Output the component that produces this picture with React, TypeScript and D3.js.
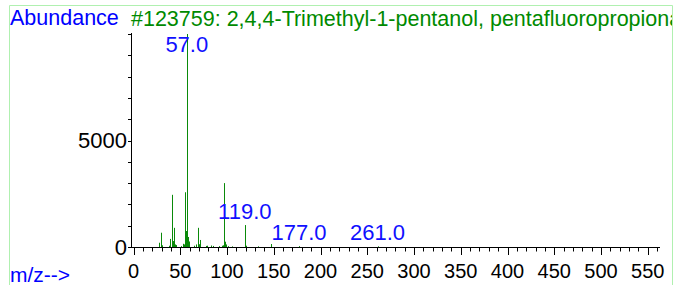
import React from 'react';
import * as d3 from 'd3';

// peak list (m/z, abundance)
const mzValues = [27, 29, 31, 38, 39, 41, 42, 43, 44, 45, 51, 53, 54, 55, 56, 57, 58, 59, 65, 67, 69, 70, 71, 77, 79, 83, 85, 91, 95, 96, 97, 98, 99, 101, 105, 119, 120, 133, 147, 177, 261];
const abundances = [200, 670, 80, 60, 380, 2450, 280, 900, 120, 90, 40, 150, 120, 2570, 750, 9999, 470, 260, 60, 120, 900, 130, 330, 50, 60, 70, 50, 40, 60, 80, 3000, 250, 120, 40, 30, 1030, 60, 30, 140, 40, 30];
const labelledPeaks = [57, 119, 177, 261];
const xMajorTicks = [0, 50, 100, 150, 200, 250, 300, 350, 400, 450, 500, 550];
const yLabelTicks = [0, 5000];
const title = '#123759: 2,4,4-Trimethyl-1-pentanol, pentafluoropropionate';

const W = 677;
const H = 285;
const FONT = '"Liberation Sans", Arial, sans-serif';

export default function App() {
  const x = d3.scaleLinear().domain([0, 550]).range([133.5, 647.8]);
  const y = d3.scaleLinear().domain([0, 10000]).range([247, 34]);

  const xMinor = d3.range(0, 570, 10);
  const yMinor = d3.range(0, 10001, 1000);
  const peaks = mzValues.map((m, i) => ({ mz: m, ab: abundances[i] }));

  // label sits just above its peak, kept inside the plot
  const labelY = (mz: number) => {
    const ab = abundances[mzValues.indexOf(mz)];
    return Math.max(Math.min(y(ab) - 6, 244), 52);
  };

  return (
    <svg width={W} height={H} style={{ position: 'fixed', left: 0, top: 0 }} fontFamily={FONT}>
      <rect width={W} height={H} fill="#fff" />
      {/* frame */}
      <line x1={9.5} x2={672.5} y1={5.5} y2={5.5} stroke="#b0f0b0" />
      <line x1={9.5} x2={9.5} y1={5.5} y2={H} stroke="#b0f0b0" />
      <line x1={672.5} x2={672.5} y1={5.5} y2={H} stroke="#b0f0b0" />

      {/* title runs past the frame in the original, so it is clipped there */}
      <svg x={0} y={0} width={672} height={H}>
        <text x={131} y={26} fill="#008a00" fontSize={21.5}>{title}</text>
      </svg>
      <text x={10} y={25} fill="#0000ff" fontSize={21.5}>Abundance</text>
      <text x={10} y={282} fill="#0000ff" fontSize={21}>m/z--&gt;</text>

      {/* y axis */}
      <line x1={131.5} x2={131.5} y1={33} y2={247.5} stroke="#000" />
      {yMinor.map(v => (
        <line key={v} x1={128} x2={131.5} y1={Math.round(y(v)) + 0.5} y2={Math.round(y(v)) + 0.5} stroke="#000" />
      ))}
      {yLabelTicks.map(v => (
        <text key={v} x={127} y={y(v) + 7.5} textAnchor="end" fontSize={22} fill="#000">{v}</text>
      ))}

      {/* x axis */}
      <line x1={131} x2={660} y1={247.5} y2={247.5} stroke="#000" />
      {xMinor.map(v => (
        <line key={v} x1={Math.round(x(v)) + 0.5} x2={Math.round(x(v)) + 0.5} y1={247.5}
          y2={v % 50 === 0 ? 255 : 251.5} stroke="#000" />
      ))}
      {xMajorTicks.map(v => (
        <text key={v} x={x(v)} y={278} textAnchor="middle" fontSize={20} fill="#000">{v}</text>
      ))}

      {/* peaks */}
      {peaks.map(p => (
        <line key={p.mz} x1={Math.round(x(p.mz)) + 0.5} x2={Math.round(x(p.mz)) + 0.5}
          y1={247} y2={y(p.ab)} stroke="#0a8a0a" strokeWidth={1} />
      ))}
      {labelledPeaks.map(m => (
        <text key={m} x={x(m)} y={labelY(m)} textAnchor="middle"
          fontSize={22} fill="#1010ff">{m.toFixed(1)}</text>
      ))}
    </svg>
  );
}
